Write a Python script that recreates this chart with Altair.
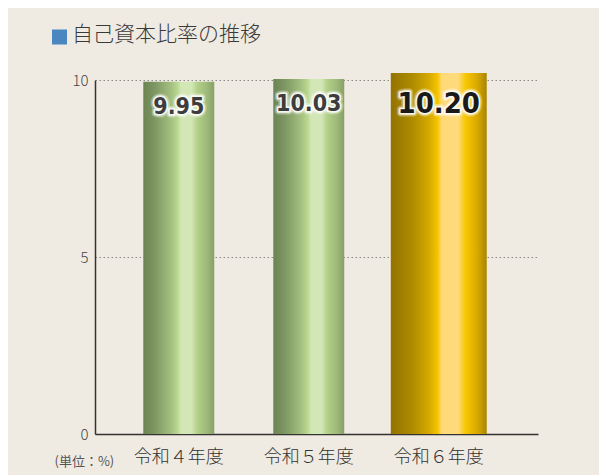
import altair as alt
import pandas as pd

categories = ["令和４年度", "令和５年度", "令和６年度"]
values = [9.95, 10.03, 10.20]
labels = ["9.95", "10.03", "10.20"]
kind = ["past", "past", "current"]

df = pd.DataFrame({"cat": categories, "val": values, "lab": labels, "kind": kind})

green = alt.Gradient(
    gradient="linear", x1=0, x2=1, y1=0, y2=0,
    stops=[
        alt.GradientStop(color="#6c8451", offset=0),
        alt.GradientStop(color="#7c9561", offset=0.15),
        alt.GradientStop(color="#a2bd7f", offset=0.38),
        alt.GradientStop(color="#b7d78e", offset=0.48),
        alt.GradientStop(color="#d3e6b6", offset=0.53),
        alt.GradientStop(color="#d3e6b6", offset=0.68),
        alt.GradientStop(color="#b3d189", offset=0.76),
        alt.GradientStop(color="#9db879", offset=0.9),
        alt.GradientStop(color="#86a066", offset=1),
    ],
)
gold = alt.Gradient(
    gradient="linear", x1=0, x2=1, y1=0, y2=0,
    stops=[
        alt.GradientStop(color="#937300", offset=0),
        alt.GradientStop(color="#ad8b00", offset=0.22),
        alt.GradientStop(color="#d6a900", offset=0.4),
        alt.GradientStop(color="#f6c500", offset=0.49),
        alt.GradientStop(color="#ffd976", offset=0.53),
        alt.GradientStop(color="#ffdb7e", offset=0.7),
        alt.GradientStop(color="#f8c700", offset=0.78),
        alt.GradientStop(color="#d9a900", offset=0.9),
        alt.GradientStop(color="#a88500", offset=1),
    ],
)

x = alt.X(
    "cat:N", sort=categories,
    scale=alt.Scale(paddingInner=0.454, paddingOuter=0.431, align=0.431),
    axis=alt.Axis(
        title="(単位：%)", titleX=-41, titleY=31, titleAlign="left",
        titleBaseline="alphabetic", titleFontSize=13, titleFontWeight="normal",
        titleColor="#555555", titleFont="Noto Sans CJK JP",
        labelAngle=0, labelFontSize=18, labelColor="#333333", labelPadding=14,
        labelFont="Noto Sans CJK JP", labelFontWeight=300, ticks=False,
        domainColor="#333333", domainWidth=1.5, grid=False,
    ),
)
y = alt.Y(
    "val:Q",
    scale=alt.Scale(domain=[0, 10], nice=False),
    axis=alt.Axis(
        title=None, values=[0, 5, 10], labelFontSize=15, labelColor="#444444",
        labelPadding=7, labelFont="Noto Sans CJK JP", labelFontWeight=300, ticks=False,
        domainColor="#333333", domainWidth=1.5, grid=True,
        gridDash=[1.5, 2.5], gridColor="#8a8a8a", gridWidth=1,
    ),
)

base = alt.Chart(df).encode(x=x, y=y)

bars_green = base.transform_filter(alt.datum.kind == "past").mark_bar(color=green, width={"band": 1})
bars_gold = base.transform_filter(alt.datum.kind == "current").mark_bar(color=gold, width={"band": 96 / 71})

numfont = "Noto Sans Condensed, DejaVu Sans Condensed, sans-serif"

def label_layers(filt, size, dy, color):
    b = base.transform_filter(filt).encode(text="lab:N")
    glow1 = b.mark_text(font=numfont, fontWeight="bold", fontSize=size, baseline="middle", dy=dy,
                        stroke="#ffffff", strokeWidth=7, strokeOpacity=0.35, strokeJoin="round", fill="#ffffff")
    glow2 = b.mark_text(font=numfont, fontWeight="bold", fontSize=size, baseline="middle", dy=dy,
                        stroke="#ffffff", strokeWidth=3.5, strokeOpacity=0.85, strokeJoin="round", fill="#ffffff")
    txt = b.mark_text(font=numfont, fontWeight="bold", fontSize=size, baseline="middle", dy=dy, color=color)
    return [glow1, glow2, txt]

lab_green = label_layers(alt.datum.kind == "past", 23, 25, "#3d3d3d")
lab_gold = label_layers(alt.datum.kind == "current", 29, 31, "#1a1a1a")

square = alt.Chart(pd.DataFrame({"t": [0]})).mark_square(
    size=225, color="#4a86c0", opacity=1, filled=True
).encode(x=alt.value(-35.5), y=alt.value(-43))

chart = alt.layer(bars_green, bars_gold, *lab_green, *lab_gold, square).properties(
    width=443, height=354,
    autosize=alt.AutoSizeParams(type="none"),
    padding={"left": 87, "top": 72, "right": 61, "bottom": 41},
    background="#f0ebe2",
    title=alt.TitleParams(
        text="自己資本比率の推移", anchor="start", frame="group", dx=-23,
        offset=43, dy=69.5, baseline="middle", fontSize=21, color="#3a3a3a",
        font="Noto Sans CJK JP", fontWeight=300,
    ),
).configure_view(stroke=None)

chart.save("out.html", embed_options={"renderer": "svg", "actions": False})
